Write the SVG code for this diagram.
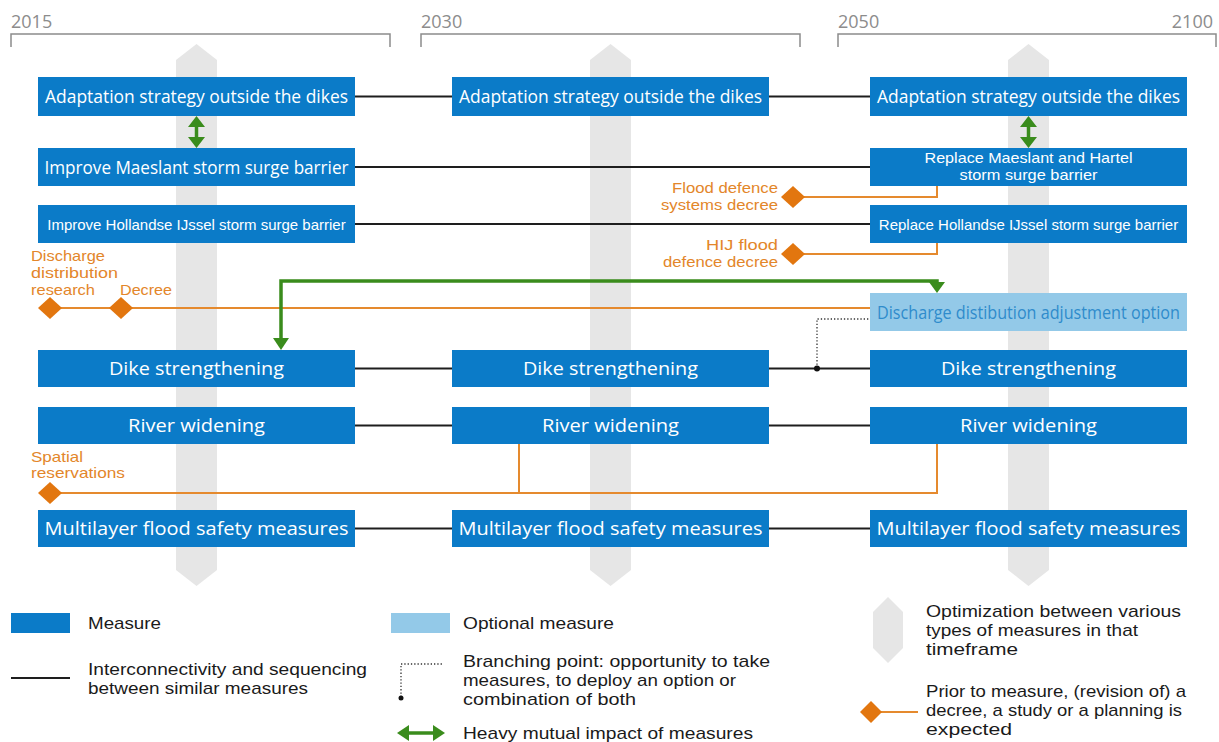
<svg xmlns="http://www.w3.org/2000/svg" width="1219" height="742" viewBox="0 0 1219 742">
<style>
.yr{font-family:"Open Sans","Noto Sans",sans-serif;font-size:18px;fill:#8c8c8c}
.br{fill:none;stroke:#8c8c8c;stroke-width:1.5}
.col{fill:#e6e6e6}
.m{fill:#0b7bc8}
.opt{fill:#93c9e8}
.t{font-family:"Open Sans","Noto Sans",sans-serif;font-size:19px;fill:#fff;text-anchor:middle}
.ts{font-family:"Liberation Sans",Arial,sans-serif;font-size:15px;fill:#fff;text-anchor:middle}
.to{font-family:"Open Sans","Noto Sans",sans-serif;font-size:18px;fill:#2f8ccc;text-anchor:middle}
.ol{font-family:"Liberation Sans",Arial,sans-serif;font-size:14.6px;fill:#e3862a}
.blk{fill:none;stroke:#1e1e1e;stroke-width:2}
.or{fill:none;stroke:#e58a2e;stroke-width:2}
.gr{fill:none;stroke:#3a8c1c;stroke-width:3.5}
.gh{fill:#3a8c1c}
.dia{fill:#e2760f}
.dot{fill:none;stroke:#333;stroke-width:1.3;stroke-dasharray:1.3 2}
.lg{font-family:"Liberation Sans",Arial,sans-serif;font-size:16.4px;fill:#1a1a1a}
</style>

<g id="timeline">
<text class="yr" x="11" y="28">2015</text>
<path class="br" d="M11,47 V34 H390 V47"/>
<text class="yr" x="421" y="28">2030</text>
<path class="br" d="M421,47 V34 H800 V47"/>
<text class="yr" x="838" y="28">2050</text>
<text class="yr" x="1213" y="28" text-anchor="end">2100</text>
<path class="br" d="M838,47 V34 H1216 V47"/>
</g>

<g id="optimization-columns">
<path class="col" d="M176,60 L196.5,44 L217,60 V570 L196.5,586 L176,570 Z"/>
<path class="col" d="M590,60 L610.5,44 L631,60 V570 L610.5,586 L590,570 Z"/>
<path class="col" d="M1008,60 L1028.5,44 L1049,60 V570 L1028.5,586 L1008,570 Z"/>
</g>

<g id="connectors">
<line class="blk" x1="355" y1="96.5" x2="452" y2="96.5"/>
<line class="blk" x1="769" y1="96.5" x2="870" y2="96.5"/>
<line class="blk" x1="355" y1="167" x2="870" y2="167"/>
<line class="blk" x1="355" y1="224" x2="870" y2="224"/>
<line class="blk" x1="355" y1="368.5" x2="452" y2="368.5"/>
<line class="blk" x1="769" y1="368.5" x2="870" y2="368.5"/>
<line class="blk" x1="355" y1="425.5" x2="452" y2="425.5"/>
<line class="blk" x1="769" y1="425.5" x2="870" y2="425.5"/>
<line class="blk" x1="355" y1="528.5" x2="452" y2="528.5"/>
<line class="blk" x1="769" y1="528.5" x2="870" y2="528.5"/>
<path class="dot" d="M817,368 V319 H869"/>
<circle cx="817" cy="368.5" r="3" fill="#111"/>
<path class="or" d="M793,197 H937 V186"/>
<path class="or" d="M793,254 H937 V243"/>
<line class="or" x1="50" y1="308" x2="870" y2="308"/>
<path class="or" d="M50,493 H937 V444"/>
<line class="or" x1="519" y1="444" x2="519" y2="493"/>
<path class="gr" d="M281,340 V281 H937 V284"/>
<path class="gh" d="M273,338 H289 L281,350 Z"/>
<path class="gh" d="M929,282 H945 L937,293 Z"/>
<line class="gr" x1="196.5" y1="125" x2="196.5" y2="139" stroke-width="4"/>
<path class="gh" d="M196.5,116 L205,127 H188 Z M196.5,148 L205,137 H188 Z"/>
<line class="gr" x1="1028.5" y1="125" x2="1028.5" y2="139" stroke-width="4"/>
<path class="gh" d="M1028.5,116 L1037,127 H1020 Z M1028.5,148 L1037,137 H1020 Z"/>
<path class="dia" d="M793,186 L805,197 L793,208 L781,197 Z"/>
<path class="dia" d="M793,243 L805,254 L793,265 L781,254 Z"/>
<path class="dia" d="M50,297 L62,308 L50,319 L38,308 Z"/>
<path class="dia" d="M121,297 L133,308 L121,319 L109,308 Z"/>
<path class="dia" d="M50,482 L62,493 L50,504 L38,493 Z"/>
</g>

<g id="decree-labels">
<text class="ol" x="778" y="193" text-anchor="end" textLength="106" lengthAdjust="spacingAndGlyphs">Flood defence</text>
<text class="ol" x="778" y="210" text-anchor="end" textLength="117" lengthAdjust="spacingAndGlyphs">systems decree</text>
<text class="ol" x="778" y="250" text-anchor="end" textLength="72" lengthAdjust="spacingAndGlyphs">HIJ flood</text>
<text class="ol" x="778" y="267" text-anchor="end" textLength="115" lengthAdjust="spacingAndGlyphs">defence decree</text>
<text class="ol" x="31" y="261" textLength="74" lengthAdjust="spacingAndGlyphs">Discharge</text>
<text class="ol" x="31" y="278" textLength="87" lengthAdjust="spacingAndGlyphs">distribution</text>
<text class="ol" x="31" y="295" textLength="64" lengthAdjust="spacingAndGlyphs">research</text>
<text class="ol" x="120" y="295" textLength="52" lengthAdjust="spacingAndGlyphs">Decree</text>
<text class="ol" x="31" y="462" textLength="52" lengthAdjust="spacingAndGlyphs">Spatial</text>
<text class="ol" x="31" y="478" textLength="94" lengthAdjust="spacingAndGlyphs">reservations</text>
</g>

<g id="adapt-2015"><rect class="m" x="38" y="77" width="317" height="39"/><text class="t" x="196.5" y="103" textLength="303" lengthAdjust="spacingAndGlyphs">Adaptation strategy outside the dikes</text></g>
<g id="adapt-2030"><rect class="m" x="452" y="77" width="317" height="39"/><text class="t" x="610.5" y="103" textLength="303" lengthAdjust="spacingAndGlyphs">Adaptation strategy outside the dikes</text></g>
<g id="adapt-2050"><rect class="m" x="870" y="77" width="317" height="39"/><text class="t" x="1028.5" y="103" textLength="303" lengthAdjust="spacingAndGlyphs">Adaptation strategy outside the dikes</text></g>

<g id="maeslant-2015"><rect class="m" x="38" y="148" width="317" height="38"/><text class="t" x="196.5" y="173.5" textLength="304" lengthAdjust="spacingAndGlyphs">Improve Maeslant storm surge barrier</text></g>
<g id="maeslant-2050"><rect class="m" x="870" y="148" width="317" height="38"/><text class="ts" x="1028.5" y="163" font-size="14.5" textLength="208" lengthAdjust="spacingAndGlyphs">Replace Maeslant and Hartel</text><text class="ts" x="1028.5" y="180" font-size="14.5" textLength="138" lengthAdjust="spacingAndGlyphs">storm surge barrier</text></g>

<g id="hij-2015"><rect class="m" x="38" y="205" width="317" height="38"/><text class="ts" x="196.5" y="229.5" font-size="15.4">Improve Hollandse IJssel storm surge barrier</text></g>
<g id="hij-2050"><rect class="m" x="870" y="205" width="317" height="38"/><text class="ts" x="1028.5" y="229.5" font-size="15.2">Replace Hollandse IJssel storm surge barrier</text></g>

<g id="discharge-option"><rect class="opt" x="870" y="293" width="317" height="38"/><text class="to" x="1028.5" y="318.5" textLength="303" lengthAdjust="spacingAndGlyphs">Discharge distibution adjustment option</text></g>

<g id="dike-2015"><rect class="m" x="38" y="350" width="317" height="37"/><text class="t" x="196.5" y="375" font-size="20" textLength="175" lengthAdjust="spacingAndGlyphs">Dike strengthening</text></g>
<g id="dike-2030"><rect class="m" x="452" y="350" width="317" height="37"/><text class="t" x="610.5" y="375" font-size="20" textLength="175" lengthAdjust="spacingAndGlyphs">Dike strengthening</text></g>
<g id="dike-2050"><rect class="m" x="870" y="350" width="317" height="37"/><text class="t" x="1028.5" y="375" font-size="20" textLength="175" lengthAdjust="spacingAndGlyphs">Dike strengthening</text></g>

<g id="river-2015"><rect class="m" x="38" y="407" width="317" height="37"/><text class="t" x="196.5" y="432" font-size="20" textLength="137" lengthAdjust="spacingAndGlyphs">River widening</text></g>
<g id="river-2030"><rect class="m" x="452" y="407" width="317" height="37"/><text class="t" x="610.5" y="432" font-size="20" textLength="137" lengthAdjust="spacingAndGlyphs">River widening</text></g>
<g id="river-2050"><rect class="m" x="870" y="407" width="317" height="37"/><text class="t" x="1028.5" y="432" font-size="20" textLength="137" lengthAdjust="spacingAndGlyphs">River widening</text></g>

<g id="multi-2015"><rect class="m" x="38" y="510" width="317" height="37"/><text class="t" x="196.5" y="535" font-size="20" textLength="304" lengthAdjust="spacingAndGlyphs">Multilayer flood safety measures</text></g>
<g id="multi-2030"><rect class="m" x="452" y="510" width="317" height="37"/><text class="t" x="610.5" y="535" font-size="20" textLength="304" lengthAdjust="spacingAndGlyphs">Multilayer flood safety measures</text></g>
<g id="multi-2050"><rect class="m" x="870" y="510" width="317" height="37"/><text class="t" x="1028.5" y="535" font-size="20" textLength="304" lengthAdjust="spacingAndGlyphs">Multilayer flood safety measures</text></g>

<g id="legend">
<rect class="m" x="11" y="613" width="59" height="20"/>
<text class="lg" x="88" y="629" font-size="18" textLength="73" lengthAdjust="spacingAndGlyphs">Measure</text>
<line class="blk" x1="11" y1="678" x2="70" y2="678"/>
<text class="lg" x="88" y="675" textLength="279" lengthAdjust="spacingAndGlyphs">Interconnectivity and sequencing</text>
<text class="lg" x="88" y="694" textLength="220" lengthAdjust="spacingAndGlyphs">between similar measures</text>
<rect class="opt" x="391" y="613" width="59" height="20"/>
<text class="lg" x="463" y="629" font-size="18" textLength="151" lengthAdjust="spacingAndGlyphs">Optional measure</text>
<path class="dot" d="M401,697 V664 H443"/>
<circle cx="401" cy="698" r="2.5" fill="#111"/>
<text class="lg" x="463" y="667" textLength="307" lengthAdjust="spacingAndGlyphs">Branching point: opportunity to take</text>
<text class="lg" x="463" y="686" textLength="273" lengthAdjust="spacingAndGlyphs">measures, to deploy an option or</text>
<text class="lg" x="463" y="705" textLength="173" lengthAdjust="spacingAndGlyphs">combination of both</text>
<line class="gr" x1="406" y1="733" x2="436" y2="733" stroke-width="4"/>
<path class="gh" d="M397,733 L409,725 V741 Z M445,733 L433,725 V741 Z"/>
<text class="lg" x="463" y="739" textLength="290" lengthAdjust="spacingAndGlyphs">Heavy mutual impact of measures</text>
<path class="col" d="M873,612 L888,597 L903,612 V648 L888,663 L873,648 Z"/>
<text class="lg" x="926" y="617" textLength="255" lengthAdjust="spacingAndGlyphs">Optimization between various</text>
<text class="lg" x="926" y="636" textLength="212" lengthAdjust="spacingAndGlyphs">types of measures in that</text>
<text class="lg" x="926" y="655" textLength="92" lengthAdjust="spacingAndGlyphs">timeframe</text>
<line class="or" x1="871" y1="712" x2="918" y2="712"/>
<path class="dia" d="M871,701 L882,712 L871,723 L860,712 Z"/>
<text class="lg" x="926" y="697" textLength="260" lengthAdjust="spacingAndGlyphs">Prior to measure, (revision of) a</text>
<text class="lg" x="926" y="716" textLength="256" lengthAdjust="spacingAndGlyphs">decree, a study or a planning is</text>
<text class="lg" x="926" y="735" textLength="86" lengthAdjust="spacingAndGlyphs">expected</text>
</g>
</svg>
